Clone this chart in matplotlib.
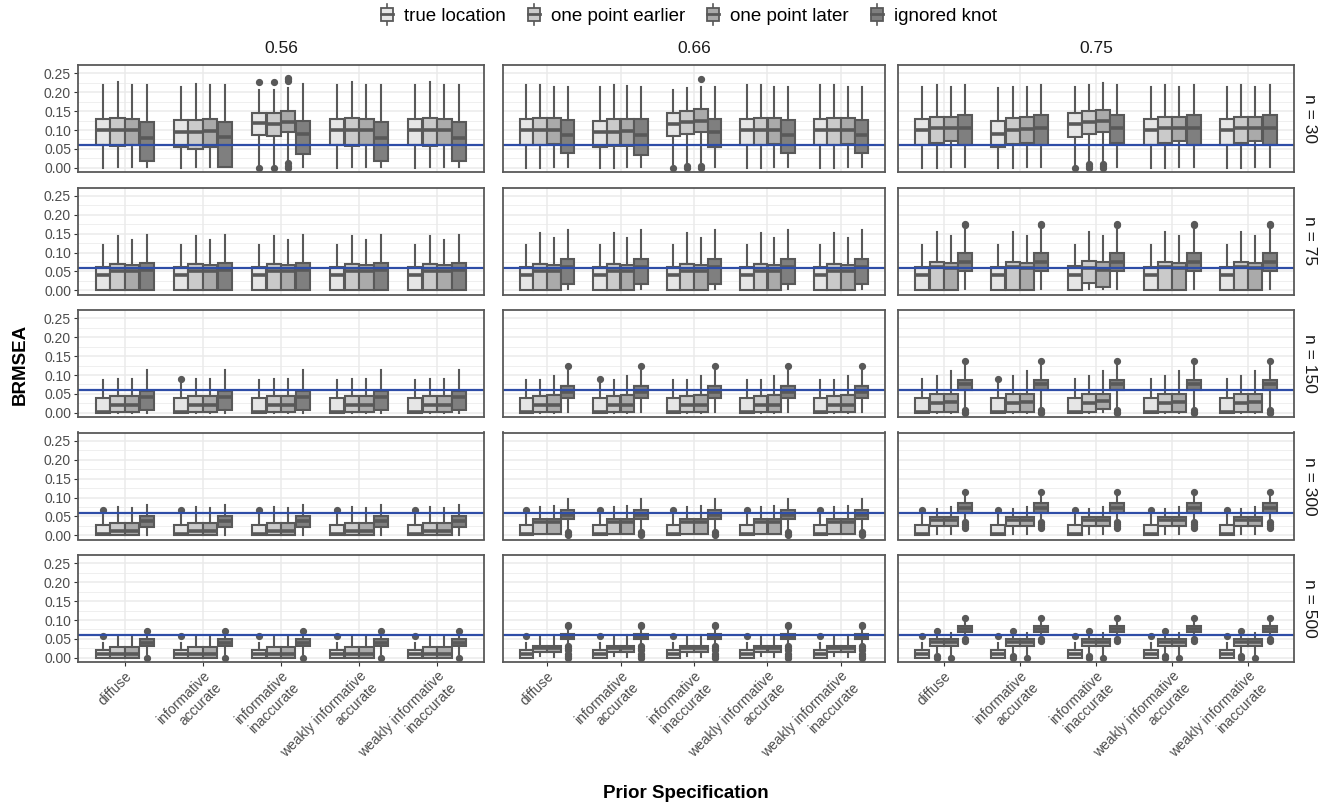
import matplotlib
matplotlib.use("Agg")
import matplotlib.pyplot as plt
from matplotlib.legend_handler import HandlerBase
from matplotlib.patches import Rectangle, Patch
from matplotlib.lines import Line2D

plt.rcParams['font.family'] = ['Liberation Sans', 'DejaVu Sans']

# ---------------- data ----------------
priors = ["diffuse", "informative\naccurate", "informative\ninaccurate",
          "weakly informative\naccurate", "weakly informative\ninaccurate"]
groups = ["true location", "one point earlier", "one point later", "ignored knot"]
reliabilities = ["0.56", "0.66", "0.75"]
sample_sizes = [30, 75, 150, 300, 500]
cutoff = 0.06
fills = ["#E6E6E6", "#CACACA", "#AAAAAA", "#7F7F7F"]

# each box: (whisker low, Q1, median, Q3, whisker high, outliers)
# ---- n = 30 ----
n30_r56_typ = [(0.000, 0.060, 0.100, 0.130, 0.218, []),
               (0.002, 0.059, 0.100, 0.132, 0.226, []),
               (0.002, 0.060, 0.100, 0.130, 0.218, []),
               (0.003, 0.017, 0.080, 0.122, 0.220, [])]
n30_r56_ia = [(0.000, 0.054, 0.095, 0.126, 0.214, []),
              (0.002, 0.051, 0.095, 0.126, 0.222, []),
              (0.002, 0.056, 0.097, 0.128, 0.218, []),
              (0.003, 0.003, 0.082, 0.120, 0.220, [])]
n30_r56_ii = [(0.008, 0.087, 0.118, 0.145, 0.205, [0.0, 0.226]),
              (0.010, 0.085, 0.115, 0.145, 0.206, [0.0, 0.228]),
              (0.015, 0.095, 0.122, 0.150, 0.210, [0.0, 0.005, 0.012, 0.230, 0.235, 0.238]),
              (0.003, 0.037, 0.090, 0.125, 0.222, [])]
n30_r66_typ = [(0.000, 0.060, 0.100, 0.130, 0.218, []),
               (0.000, 0.060, 0.100, 0.132, 0.220, []),
               (0.002, 0.063, 0.100, 0.133, 0.215, []),
               (0.003, 0.040, 0.088, 0.127, 0.215, [])]
n30_r66_ia = [(0.000, 0.055, 0.095, 0.125, 0.215, []),
              (0.000, 0.057, 0.096, 0.128, 0.218, []),
              (0.002, 0.058, 0.098, 0.130, 0.217, []),
              (0.003, 0.035, 0.088, 0.128, 0.215, [])]
n30_r66_ii = [(0.010, 0.085, 0.115, 0.145, 0.205, [0.0]),
              (0.012, 0.090, 0.120, 0.150, 0.210, [0.0, 0.005]),
              (0.015, 0.095, 0.125, 0.155, 0.215, [0.0, 0.005, 0.235]),
              (0.003, 0.055, 0.095, 0.130, 0.215, [])]
n30_r75_typ = [(0.000, 0.060, 0.100, 0.130, 0.215, []),
               (0.000, 0.065, 0.105, 0.135, 0.220, []),
               (0.002, 0.070, 0.105, 0.135, 0.215, []),
               (0.003, 0.060, 0.105, 0.140, 0.220, [])]
n30_r75_ia = [(0.000, 0.055, 0.090, 0.125, 0.210, []),
              (0.000, 0.063, 0.100, 0.133, 0.215, []),
              (0.002, 0.065, 0.102, 0.135, 0.215, []),
              (0.003, 0.060, 0.105, 0.140, 0.220, [])]
n30_r75_ii = [(0.008, 0.082, 0.115, 0.145, 0.215, [0.0]),
              (0.015, 0.090, 0.120, 0.150, 0.220, [0.0, 0.005, 0.010]),
              (0.015, 0.095, 0.125, 0.153, 0.225, [0.0, 0.005, 0.010]),
              (0.003, 0.065, 0.105, 0.140, 0.220, [])]
# ---- n = 75 ----
n75_r56_typ = [(0.000, 0.000, 0.040, 0.063, 0.120, []),
               (0.000, 0.000, 0.050, 0.070, 0.145, []),
               (0.000, 0.000, 0.050, 0.067, 0.132, []),
               (0.000, 0.000, 0.055, 0.073, 0.147, [])]
n75_r66_typ = [(0.000, 0.000, 0.040, 0.063, 0.120, []),
               (0.000, 0.000, 0.050, 0.070, 0.152, []),
               (0.000, 0.000, 0.050, 0.067, 0.138, []),
               (0.003, 0.018, 0.062, 0.083, 0.160, [])]
n75_r75_typ = [(0.000, 0.000, 0.040, 0.063, 0.120, []),
               (0.000, 0.000, 0.062, 0.075, 0.155, []),
               (0.000, 0.000, 0.060, 0.073, 0.145, []),
               (0.003, 0.050, 0.075, 0.098, 0.160, [0.172, 0.175])]
n75_r75_ii = [(0.000, 0.000, 0.040, 0.065, 0.120, []),
              (0.003, 0.020, 0.060, 0.078, 0.155, []),
              (0.003, 0.010, 0.055, 0.075, 0.145, []),
              (0.003, 0.050, 0.075, 0.098, 0.160, [0.172, 0.175])]
# ---- n = 150 ----
n150_r56_typ = [(0.000, 0.000, 0.003, 0.040, 0.088, []),
                (0.000, 0.003, 0.020, 0.045, 0.090, []),
                (0.000, 0.003, 0.020, 0.045, 0.090, []),
                (0.000, 0.008, 0.043, 0.058, 0.112, [])]
n150_r56_ia = [(0.000, 0.000, 0.003, 0.040, 0.080, [0.090]),
               (0.000, 0.003, 0.020, 0.045, 0.090, []),
               (0.000, 0.003, 0.020, 0.045, 0.090, []),
               (0.000, 0.008, 0.043, 0.058, 0.112, [])]
n150_r66_typ = [(0.000, 0.000, 0.003, 0.040, 0.088, []),
                (0.000, 0.003, 0.020, 0.045, 0.088, []),
                (0.000, 0.003, 0.022, 0.048, 0.097, []),
                (0.003, 0.038, 0.055, 0.070, 0.110, [0.125])]
n150_r66_ia = [(0.000, 0.000, 0.003, 0.040, 0.080, [0.090]),
               (0.000, 0.003, 0.020, 0.045, 0.088, []),
               (0.000, 0.003, 0.022, 0.048, 0.097, []),
               (0.003, 0.038, 0.055, 0.070, 0.110, [0.125])]
n150_r75_typ = [(0.000, 0.000, 0.003, 0.040, 0.090, []),
                (0.000, 0.003, 0.025, 0.050, 0.098, []),
                (0.000, 0.003, 0.028, 0.050, 0.110, []),
                (0.015, 0.060, 0.075, 0.088, 0.130, [0.0, 0.003, 0.007, 0.138])]
n150_r75_ia = [(0.000, 0.000, 0.003, 0.040, 0.080, [0.090]),
               (0.000, 0.003, 0.025, 0.050, 0.098, []),
               (0.000, 0.003, 0.028, 0.050, 0.110, []),
               (0.015, 0.060, 0.075, 0.088, 0.130, [0.0, 0.003, 0.007, 0.138])]
n150_r75_ii = [(0.000, 0.000, 0.003, 0.040, 0.090, []),
               (0.000, 0.003, 0.025, 0.050, 0.098, []),
               (0.003, 0.010, 0.030, 0.050, 0.110, []),
               (0.015, 0.060, 0.075, 0.088, 0.130, [0.0, 0.003, 0.007, 0.138])]
# ---- n = 300 ----
n300_r56_typ = [(0.000, 0.000, 0.003, 0.028, 0.055, [0.068]),
                (0.000, 0.000, 0.012, 0.033, 0.075, []),
                (0.000, 0.000, 0.012, 0.033, 0.072, []),
                (0.000, 0.022, 0.038, 0.050, 0.080, [])]
n300_r66_typ = [(0.000, 0.000, 0.003, 0.028, 0.055, [0.068]),
                (0.003, 0.003, 0.035, 0.042, 0.075, []),
                (0.003, 0.003, 0.035, 0.042, 0.078, []),
                (0.012, 0.042, 0.055, 0.066, 0.095, [0.0, 0.004, 0.008])]
n300_r75_typ = [(0.000, 0.000, 0.003, 0.028, 0.055, [0.068]),
                (0.003, 0.026, 0.040, 0.048, 0.070, []),
                (0.003, 0.026, 0.040, 0.048, 0.075, []),
                (0.045, 0.060, 0.073, 0.086, 0.110, [0.020, 0.025, 0.030, 0.035, 0.115])]
# ---- n = 500 ----
n500_r56_typ = [(0.000, 0.000, 0.010, 0.022, 0.040, [0.058]),
                (0.000, 0.000, 0.010, 0.028, 0.058, []),
                (0.000, 0.000, 0.010, 0.028, 0.058, []),
                (0.010, 0.030, 0.040, 0.050, 0.060, [0.0, 0.070])]
n500_r66_typ = [(0.000, 0.000, 0.010, 0.022, 0.040, [0.058]),
                (0.005, 0.016, 0.025, 0.032, 0.058, []),
                (0.003, 0.016, 0.025, 0.032, 0.060, []),
                (0.035, 0.049, 0.056, 0.062, 0.078,
                 [0.0, 0.005, 0.010, 0.020, 0.025, 0.030, 0.083, 0.087])]
n500_r75_typ = [(0.000, 0.000, 0.010, 0.022, 0.040, [0.058]),
                (0.015, 0.030, 0.042, 0.050, 0.060, [0.0, 0.004, 0.070]),
                (0.003, 0.030, 0.042, 0.050, 0.065, [0.0]),
                (0.055, 0.068, 0.077, 0.085, 0.100, [0.045, 0.050, 0.105])]

# panel data: rows = sample sizes, cols = reliabilities; each = 5 priors
panels = {
    (30, "0.56"): [n30_r56_typ, n30_r56_ia, n30_r56_ii, n30_r56_typ, n30_r56_typ],
    (30, "0.66"): [n30_r66_typ, n30_r66_ia, n30_r66_ii, n30_r66_typ, n30_r66_typ],
    (30, "0.75"): [n30_r75_typ, n30_r75_ia, n30_r75_ii, n30_r75_typ, n30_r75_typ],
    (75, "0.56"): [n75_r56_typ] * 5,
    (75, "0.66"): [n75_r66_typ] * 5,
    (75, "0.75"): [n75_r75_typ, n75_r75_typ, n75_r75_ii, n75_r75_typ, n75_r75_typ],
    (150, "0.56"): [n150_r56_typ, n150_r56_ia, n150_r56_typ, n150_r56_typ, n150_r56_typ],
    (150, "0.66"): [n150_r66_typ, n150_r66_ia, n150_r66_typ, n150_r66_typ, n150_r66_typ],
    (150, "0.75"): [n150_r75_typ, n150_r75_ia, n150_r75_ii, n150_r75_typ, n150_r75_typ],
    (300, "0.56"): [n300_r56_typ] * 5,
    (300, "0.66"): [n300_r66_typ] * 5,
    (300, "0.75"): [n300_r75_typ] * 5,
    (500, "0.56"): [n500_r56_typ] * 5,
    (500, "0.66"): [n500_r66_typ] * 5,
    (500, "0.75"): [n500_r75_typ] * 5,
}

# ---------------- layout ----------------
W, H = 1325, 808
fig = plt.figure(figsize=(W / 100, H / 100), dpi=100)

EDGE = "#595959"
GRID = "#EBEBEB"
TICKC = "#4D4D4D"
col_x = [(78, 484), (503, 885), (898, 1294)]
row_top = [65, 187.5, 310, 432.5, 555]
row_h = 107
ylim = (-0.011, 0.272)

dodge = 0.75
nG = len(groups)
bw = dodge / nG
offsets = [-dodge / 2 + bw / 2 + i * bw for i in range(nG)]

axes = {}
for ri, n in enumerate(sample_sizes):
    for ci, rel in enumerate(reliabilities):
        x0, x1 = col_x[ci]
        top = row_top[ri]
        ax = fig.add_axes([x0 / W, 1 - (top + row_h) / H, (x1 - x0) / W, row_h / H])
        axes[(ri, ci)] = ax
        ax.set_xlim(0.4, len(priors) + 0.6)
        ax.set_ylim(*ylim)
        ax.set_yticks([0, 0.05, 0.10, 0.15, 0.20, 0.25])
        ax.set_yticks([0.025, 0.075, 0.125, 0.175, 0.225], minor=True)
        ax.set_xticks(range(1, len(priors) + 1))
        ax.grid(True, which="major", color=GRID, lw=1.1, zorder=0)
        ax.grid(True, which="minor", axis="y", color=GRID, lw=0.55, zorder=0)
        ax.set_axisbelow(True)
        for s in ax.spines.values():
            s.set_color(EDGE)
            s.set_linewidth(1.3)
            s.set_zorder(5)
        ax.tick_params(which="major", direction="out", length=3, width=0.8,
                       color="#333333", labelcolor=TICKC, labelsize=10, pad=2)
        ax.tick_params(which="minor", length=0)

        stats, pos, cols = [], [], []
        for pi, prior_boxes in enumerate(panels[(n, rel)]):
            for gi, b in enumerate(prior_boxes):
                lo, q1, med, q3, hi, out = b
                stats.append(dict(whislo=lo, q1=q1, med=med, q3=q3, whishi=hi,
                                  fliers=out, label=""))
                pos.append(pi + 1 + offsets[gi])
                cols.append(fills[gi])
        bp = ax.bxp(stats, positions=pos, widths=bw * 0.98, patch_artist=True,
                    showcaps=False, manage_ticks=False,
                    boxprops=dict(edgecolor=EDGE, linewidth=1.5),
                    medianprops=dict(color=EDGE, linewidth=2.6, solid_capstyle="butt"),
                    whiskerprops=dict(color=EDGE, linewidth=1.5),
                    flierprops=dict(marker="o", markerfacecolor=EDGE,
                                    markeredgecolor=EDGE, markersize=4.2))
        for patch, c in zip(bp["boxes"], cols):
            patch.set_facecolor(c)
        ax.axhline(cutoff, color="#2E4DA7", lw=1.6, zorder=4)

        if ci == 0:
            ax.set_yticklabels(["0.00", "0.05", "0.10", "0.15", "0.20", "0.25"])
        else:
            ax.set_yticklabels([])
            ax.tick_params(axis="y", which="both", length=0)
        if ri == len(sample_sizes) - 1:
            ax.set_xticklabels(priors, rotation=45, ha="right", va="top",
                               rotation_mode="anchor", ma="right",
                               fontsize=10, color=TICKC)
        else:
            ax.set_xticklabels([])
            ax.tick_params(axis="x", length=0)
        if ri == 0:
            ax.text(0.5, 1.08, rel, transform=ax.transAxes, ha="center", va="bottom",
                    fontsize=12.5, color="#1A1A1A")
        if ci == len(reliabilities) - 1:
            ax.text(1.02, 0.5, f"n = {n}", transform=ax.transAxes, ha="left",
                    va="center", rotation=-90, fontsize=12.5, color="#1A1A1A")

fig.text((78 + 1294) / 2 / W, 1 - 793 / H, "Prior Specification", ha="center",
         va="center", fontsize=13.5, fontweight="bold")
fig.text(20 / W, 1 - 364 / H, "BRMSEA", ha="center", va="center", rotation=90,
         fontsize=13.5, fontweight="bold")


class BoxHandler(HandlerBase):
    def create_artists(self, legend, orig_handle, xdescent, ydescent, width,
                       height, fontsize, trans):
        fc = orig_handle.get_facecolor()
        cx = -xdescent + width / 2
        w = width * 0.8
        y0 = -ydescent
        wl = Line2D([cx, cx], [y0 - height * 0.25, y0 + height * 1.25], color=EDGE,
                    lw=1.2, transform=trans)
        box = Rectangle((cx - w / 2, y0 + height * 0.05), w, height * 0.9,
                        facecolor=fc, edgecolor=EDGE, lw=1.3, transform=trans)
        med = Line2D([cx - w / 2, cx + w / 2], [y0 + height / 2] * 2, color=EDGE,
                     lw=2, transform=trans)
        return [wl, box, med]


handles = [Patch(facecolor=c, label=g) for c, g in zip(fills, groups)]
fig.legend(handles=handles, handler_map={Patch: BoxHandler()}, loc="center",
           bbox_to_anchor=(688 / W, 1 - 16 / H), ncol=4, frameon=False,
           fontsize=13.5, handlelength=0.8, handleheight=0.8,
           handletextpad=0.5, columnspacing=1.1)

fig.savefig("out.png", dpi=100)
